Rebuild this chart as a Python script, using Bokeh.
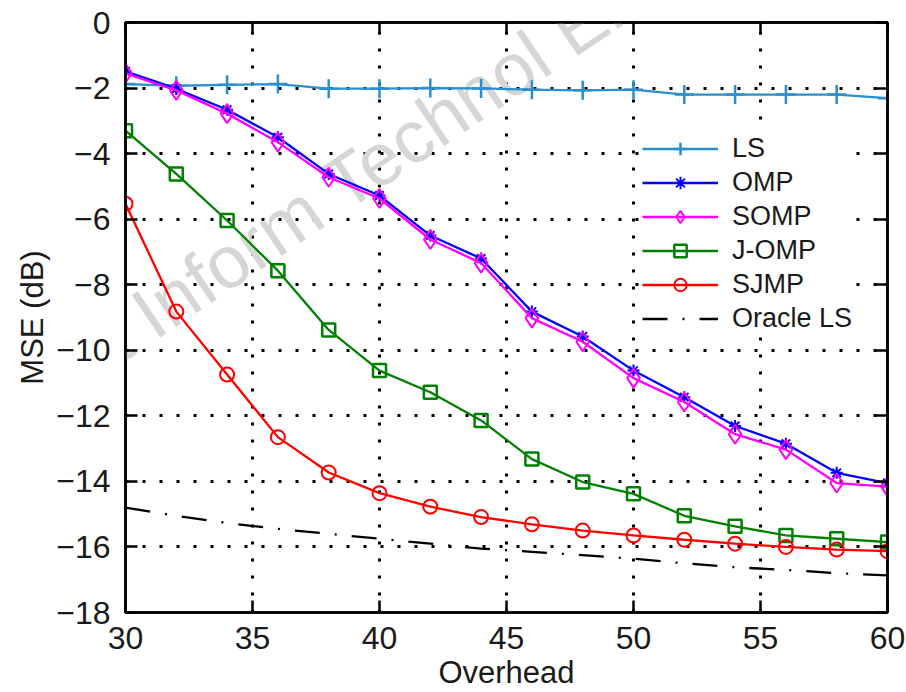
from bokeh.plotting import figure
from bokeh.models import (Range1d, LinearAxis, FixedTicker, Legend, LegendItem, Label,
                          CustomJSTickFormatter)
from bokeh.embed import file_html
from bokeh.resources import INLINE

overhead = [30, 32, 34, 36, 38, 40, 42, 44, 46, 48, 50, 52, 54, 56, 58, 60]
ls_mse = [-1.88, -1.93, -1.90, -1.88, -2.02, -2.02, -2.00, -2.01, -2.05, -2.07, -2.05, -2.20, -2.20, -2.20, -2.20, -2.31]
omp_mse = [-1.49, -2.02, -2.66, -3.50, -4.62, -5.28, -6.50, -7.20, -8.82, -9.58, -10.62, -11.43, -12.31, -12.85, -13.74, -14.05]
somp_mse = [-1.55, -2.07, -2.78, -3.65, -4.72, -5.37, -6.62, -7.34, -9.02, -9.74, -10.85, -11.58, -12.56, -13.03, -14.05, -14.16]
jomp_mse = [-3.30, -4.62, -6.04, -7.57, -9.38, -10.62, -11.28, -12.14, -13.32, -14.02, -14.38, -15.05, -15.37, -15.65, -15.75, -15.85]
sjmp_mse = [-5.53, -8.82, -10.74, -12.65, -13.73, -14.36, -14.77, -15.09, -15.31, -15.50, -15.65, -15.78, -15.90, -16.00, -16.08, -16.13]
oracle_mse = [-14.80, -15.05, -15.27, -15.45, -15.60, -15.75, -15.90, -16.05, -16.15, -16.25, -16.36, -16.50, -16.62, -16.70, -16.80, -16.87]

x_ticks = [30, 35, 40, 45, 50, 55, 60]
y_ticks = [0, -2, -4, -6, -8, -10, -12, -14, -16, -18]
y_tick_labels = {t: (str(t) if t >= 0 else "\u2212" + str(-t)) for t in y_ticks}

FONT = "Liberation Sans"
TXT = "#1a1a1a"

p = figure(width=906, height=692, output_backend="svg", toolbar_location=None,
           x_range=Range1d(30, 60), y_range=Range1d(-18, 0),
           min_border_left=125, min_border_right=19, min_border_top=22, min_border_bottom=80)
p.background_fill_color = "white"
p.border_fill_color = "white"
p.outline_line_color = "black"
p.outline_line_width = 2.5

# axes
for ax in (p.xaxis[0], p.yaxis[0]):
    ax.axis_line_width = 2.5
    ax.major_tick_in = 12
    ax.major_tick_out = 0
    ax.major_tick_line_width = 2.5
    ax.minor_tick_line_color = None
    ax.major_label_text_font = FONT
    ax.major_label_text_font_size = "32px"
    ax.major_label_text_color = TXT
    ax.axis_label_text_font = FONT
    ax.axis_label_text_font_size = "31px"
    ax.axis_label_text_font_style = "normal"
    ax.axis_label_text_color = TXT

p.xaxis.ticker = FixedTicker(ticks=x_ticks)
p.yaxis.ticker = FixedTicker(ticks=y_ticks)
p.yaxis.major_label_overrides = y_tick_labels
p.xaxis.axis_label = "Overhead"
p.yaxis.axis_label = "MSE (dB)"
p.xaxis.major_label_standoff = 14
p.xaxis.axis_label_standoff = 3
p.yaxis.major_label_standoff = 15
p.yaxis.axis_label_standoff = 3

blank = CustomJSTickFormatter(code="return ''")
for side, ticks in (("above", x_ticks), ("right", y_ticks)):
    ax = LinearAxis(ticker=FixedTicker(ticks=ticks), formatter=blank,
                    major_label_standoff=0, major_tick_in=12, major_tick_out=0,
                    major_tick_line_width=2.5, axis_line_width=2.5,
                    minor_tick_line_color=None)
    p.add_layout(ax, side)

# grid
for g in (p.xgrid[0], p.ygrid[0]):
    g.grid_line_color = "black"
    g.grid_line_width = 3
    g.grid_line_dash = "3 14"
p.xgrid.ticker = FixedTicker(ticks=x_ticks)
p.ygrid.ticker = FixedTicker(ticks=y_ticks)

# watermark (behind the data)
wm = Label(x=-122, y=150, x_units="screen", y_units="screen",
           text="Front Inform Technol Ele", angle=34, angle_units="deg",
           text_font=FONT, text_font_size="74px", text_color="#d6d6d6",
           level="underlay")
p.add_layout(wm)

LW = 2.3
items = []
r1 = p.line(overhead, ls_mse, line_color="#2a8fd0", line_width=LW)
m1 = p.scatter(overhead, ls_mse, marker="cross", size=19, line_color="#2a8fd0", line_width=2.5)
items.append(LegendItem(label="LS", renderers=[r1, m1]))

r2 = p.line(overhead, omp_mse, line_color="#0000ff", line_width=LW)
m2 = p.scatter(overhead, omp_mse, marker="asterisk", size=12, line_color="#0000ff", line_width=2)
items.append(LegendItem(label="OMP", renderers=[r2, m2]))

r3 = p.line(overhead, somp_mse, line_color="#ff00ff", line_width=LW)
m3 = p.scatter(overhead, somp_mse, marker="diamond", size=19, line_color="#ff00ff",
               fill_alpha=0, line_width=2)
items.append(LegendItem(label="SOMP", renderers=[r3, m3]))

r4 = p.line(overhead, jomp_mse, line_color="#008000", line_width=LW)
m4 = p.scatter(overhead, jomp_mse, marker="square", size=13, line_color="#008000",
               fill_alpha=0, line_width=2.5)
items.append(LegendItem(label="J-OMP", renderers=[r4, m4]))

r5 = p.line(overhead, sjmp_mse, line_color="#ff0000", line_width=LW)
m5 = p.scatter(overhead, sjmp_mse, marker="circle", size=14, line_color="#ff0000",
               fill_alpha=0, line_width=2)
items.append(LegendItem(label="SJMP", renderers=[r5, m5]))

r6 = p.line(overhead, oracle_mse, line_color="black", line_width=LW, line_dash="25 15 2 15")
items.append(LegendItem(label="Oracle LS", renderers=[r6]))

legend = Legend(items=items, location=(517, 278), border_line_color=None,
                background_fill_color="white", background_fill_alpha=1.0,
                label_text_font=FONT, label_text_font_size="27px", label_text_color=TXT,
                glyph_width=76, glyph_height=31, label_height=31, label_standoff=14,
                spacing=3, padding=8, margin=0)
p.add_layout(legend, "center")

open("out.html", "w").write(file_html(p, INLINE))
